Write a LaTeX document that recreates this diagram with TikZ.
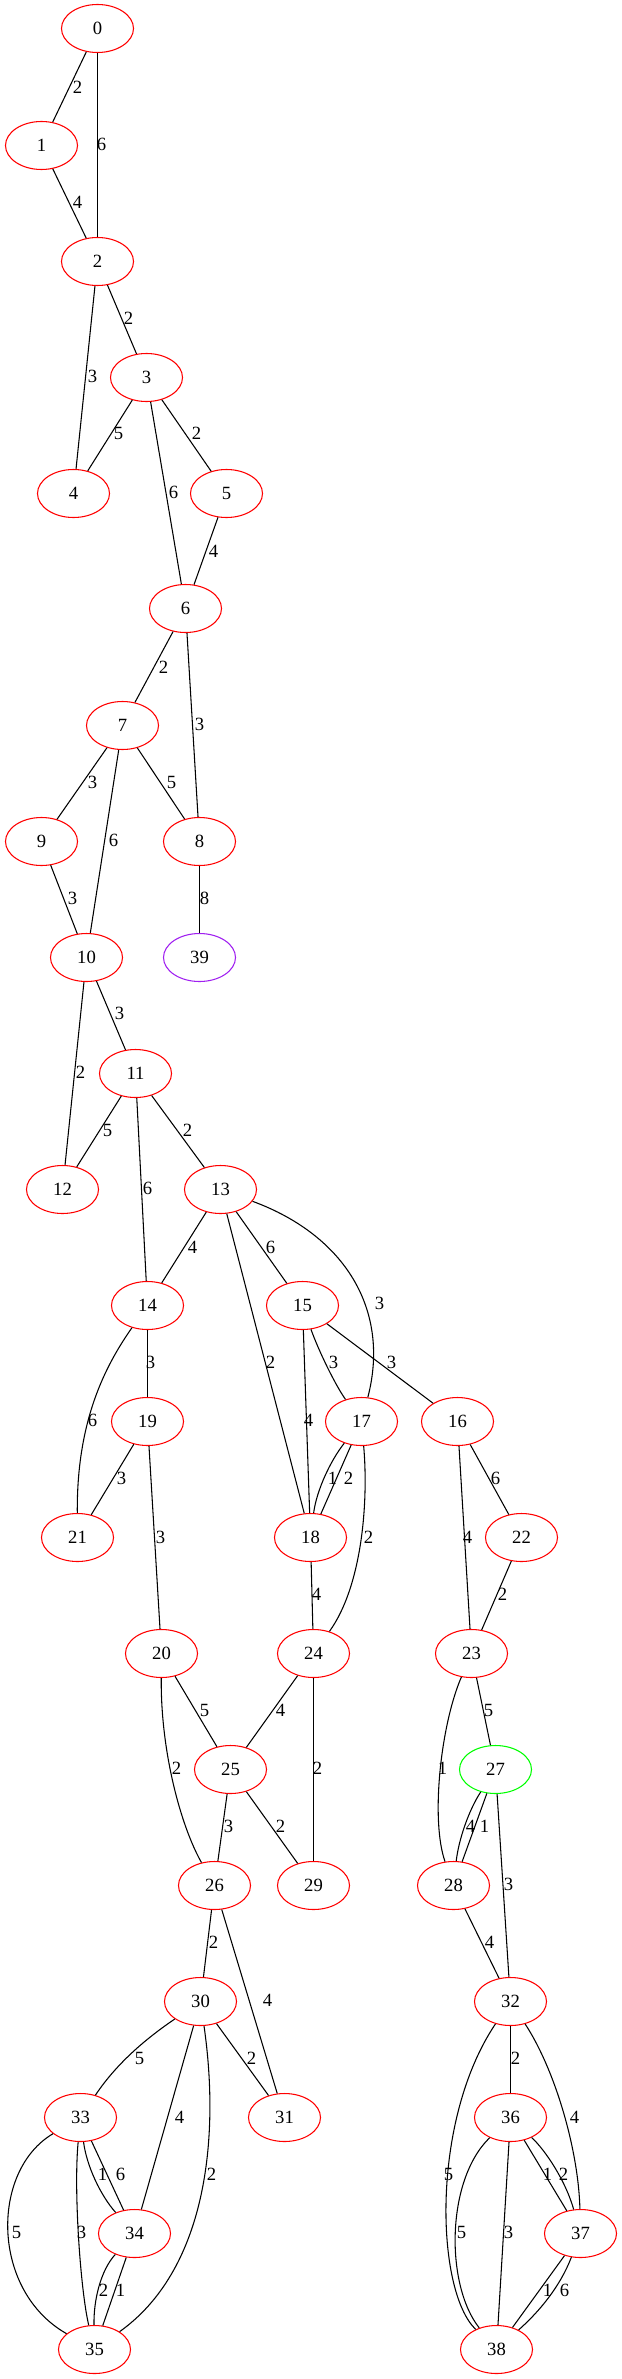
\documentclass[tikz,border=0pt]{standalone}
\usepackage{fontspec}
\setmainfont{Liberation Serif}
\usetikzlibrary{shapes.geometric}
\definecolor{gvpurple}{RGB}{160,32,240}
\definecolor{gvgreen}{RGB}{0,255,0}

\begin{document}
\begin{tikzpicture}[x=0.75pt, y=-0.75pt,
	vertex/.style={draw=red, ellipse, minimum width=54pt, minimum height=36pt, inner sep=0pt, line width=0.8pt, font=\fontsize{14pt}{16pt}\selectfont},
	wt/.style={inner sep=0pt, font=\fontsize{14pt}{16pt}\selectfont},
	link/.style={line width=0.8pt}]
	\useasboundingbox (0,0) rectangle (621,2379);
	\begin{scope}[shift={(0.5,0.5)}]

	\node[vertex] (n0) at (97,28) {0};
	\node[vertex] (n1) at (41,145) {1};
	\node[vertex] (n2) at (97,261) {2};
	\node[vertex] (n3) at (146,377) {3};
	\node[vertex] (n4) at (73,493) {4};
	\node[vertex] (n5) at (226,493) {5};
	\node[vertex] (n6) at (185,608) {6};
	\node[vertex] (n7) at (122,725) {7};
	\node[vertex] (n8) at (199,841) {8};
	\node[vertex] (n9) at (41,841) {9};
	\node[vertex] (n10) at (86,957) {10};
	\node[vertex, draw=gvpurple] (n39) at (199,957) {39};
	\node[vertex] (n11) at (135,1073) {11};
	\node[vertex] (n12) at (62,1189) {12};
	\node[vertex] (n13) at (220,1189) {13};
	\node[vertex] (n14) at (147,1305) {14};
	\node[vertex] (n15) at (302,1305) {15};
	\node[vertex] (n16) at (457,1421) {16};
	\node[vertex] (n17) at (361,1421) {17};
	\node[vertex] (n19) at (147,1421) {19};
	\node[vertex] (n18) at (310,1537) {18};
	\node[vertex] (n21) at (77,1537) {21};
	\node[vertex] (n22) at (521,1537) {22};
	\node[vertex] (n20) at (161,1653) {20};
	\node[vertex] (n23) at (471,1653) {23};
	\node[vertex] (n24) at (313,1653) {24};
	\node[vertex] (n25) at (230,1769) {25};
	\node[vertex, draw=gvgreen] (n27) at (495,1769) {27};
	\node[vertex] (n26) at (214,1885) {26};
	\node[vertex] (n28) at (453,1885) {28};
	\node[vertex] (n29) at (313,1885) {29};
	\node[vertex] (n30) at (200,2001) {30};
	\node[vertex] (n32) at (510,2001) {32};
	\node[vertex] (n31) at (284,2117) {31};
	\node[vertex] (n33) at (80,2117) {33};
	\node[vertex] (n36) at (510,2117) {36};
	\node[vertex] (n34) at (134,2233) {34};
	\node[vertex] (n37) at (580,2233) {37};
	\node[vertex] (n35) at (94,2349) {35};
	\node[vertex] (n38) at (496,2349) {38};

	\draw[link] (n0) -- (n1) node[wt] at (77,87) {2};
	\draw[link] (n0) -- (n2) node[wt] at (101,144) {6};
	\draw[link] (n1) -- (n2) node[wt] at (77,202) {4};
	\draw[link] (n2) -- (n3) node[wt] at (128,318) {2};
	\draw[link] (n2) -- (n4) node[wt] at (92,376) {3};
	\draw[link] (n3) -- (n4) node[wt] at (118,433) {5};
	\draw[link] (n3) -- (n5) node[wt] at (196,433) {2};
	\draw[link] (n3) -- (n6) node[wt] at (173,492) {6};
	\draw[link] (n5) -- (n6) node[wt] at (213,551) {4};
	\draw[link] (n6) -- (n7) node[wt] at (163,667) {2};
	\draw[link] (n6) -- (n8) node[wt] at (199,724) {3};
	\draw[link] (n7) -- (n9) node[wt] at (92,782) {3};
	\draw[link] (n7) -- (n8) node[wt] at (171,782) {5};
	\draw[link] (n7) -- (n10) node[wt] at (113,840) {6};
	\draw[link] (n9) -- (n10) node[wt] at (72,898) {3};
	\draw[link] (n8) -- (n39) node[wt] at (204,898) {8};
	\draw[link] (n10) -- (n11) node[wt] at (119,1013) {3};
	\draw[link] (n10) -- (n12) node[wt] at (80,1072) {2};
	\draw[link] (n11) -- (n12) node[wt] at (107,1130) {5};
	\draw[link] (n11) -- (n13) node[wt] at (187,1130) {2};
	\draw[link] (n11) -- (n14) node[wt] at (147,1188) {6};
	\draw[link] (n13) -- (n14) node[wt] at (192,1247) {4};
	\draw[link] (n13) -- (n15) node[wt] at (270,1247) {6};
	\draw[link] (n13) .. controls (345,1235) and (390,1310) .. (n17) node[wt] at (379,1303) {3};
	\draw[link] (n14) -- (n19) node[wt] at (150,1362) {3};
	\draw[link] (n13) -- (n18) node[wt] at (270,1362) {2};
	\draw[link] (n15) .. controls (318,1350) and (335,1385) .. (n17) node[wt] at (333,1362) {3};
	\draw[link] (n15) -- (n16) node[wt] at (391,1362) {3};
	\draw[link] (n14) .. controls (105,1365) and (76,1420) .. (n21) node[wt] at (92,1420) {6};
	\draw[link] (n15) -- (n18) node[wt] at (308,1420) {4};
	\draw[link] (n19) -- (n21) node[wt] at (121,1478) {3};
	\draw[link] (n17) .. controls (330,1460) and (316,1490) .. (n18) node[wt] at (332,1478) {1};
	\draw[link] (n17) -- (n18) node[wt] at (348,1478) {2};
	\draw[link] (n16) -- (n22) node[wt] at (495,1478) {6};
	\draw[link] (n19) -- (n20) node[wt] at (160,1537) {3};
	\draw[link] (n17) .. controls (368,1500) and (362,1585) .. (n24) node[wt] at (368,1537) {2};
	\draw[link] (n16) -- (n23) node[wt] at (467,1537) {4};
	\draw[link] (n18) -- (n24) node[wt] at (316,1594) {4};
	\draw[link] (n22) -- (n23) node[wt] at (502,1594) {2};
	\draw[link] (n20) -- (n25) node[wt] at (204,1710) {5};
	\draw[link] (n24) -- (n25) node[wt] at (280,1710) {4};
	\draw[link] (n23) -- (n27) node[wt] at (488,1710) {5};
	\draw[link] (n20) .. controls (160,1750) and (180,1825) .. (n26) node[wt] at (176,1768) {2};
	\draw[link] (n24) -- (n29) node[wt] at (317,1768) {2};
	\draw[link] (n23) .. controls (440,1725) and (430,1820) .. (n28) node[wt] at (442,1768) {1};
	\draw[link] (n25) -- (n26) node[wt] at (228,1826) {3};
	\draw[link] (n25) -- (n29) node[wt] at (280,1826) {2};
	\draw[link] (n27) .. controls (468,1810) and (458,1840) .. (n28) node[wt] at (470,1826) {4};
	\draw[link] (n27) -- (n28) node[wt] at (484,1826) {1};
	\draw[link] (n27) -- (n32) node[wt] at (508,1884) {3};
	\draw[link] (n26) -- (n30) node[wt] at (213,1942) {2};
	\draw[link] (n28) -- (n32) node[wt] at (489,1942) {4};
	\draw[link] (n26) -- (n31) node[wt] at (267,2000) {4};
	\draw[link] (n30) .. controls (150,2035) and (118,2060) .. (n33) node[wt] at (139,2058) {5};
	\draw[link] (n30) -- (n31) node[wt] at (251,2058) {2};
	\draw[link] (n32) -- (n36) node[wt] at (515,2058) {2};
	\draw[link] (n30) -- (n34) node[wt] at (179,2117) {4};
	\draw[link] (n32) .. controls (555,2070) and (578,2150) .. (n37) node[wt] at (574,2117) {4};
	\draw[link] (n33) .. controls (86,2165) and (100,2195) .. (n34) node[wt] at (102,2174) {1};
	\draw[link] (n33) -- (n34) node[wt] at (120,2174) {6};
	\draw[link] (n30) .. controls (220,2140) and (205,2270) .. (n35) node[wt] at (211,2174) {2};
	\draw[link] (n32) .. controls (430,2120) and (435,2290) .. (n38) node[wt] at (448,2174) {5};
	\draw[link] (n36) -- (n37) node[wt] at (547,2174) {1};
	\draw[link] (n36) .. controls (545,2150) and (565,2180) .. (n37) node[wt] at (563,2174) {2};
	\draw[link] (n33) .. controls (-10,2170) and (-10,2290) .. (n35) node[wt] at (16,2232) {5};
	\draw[link] (n33) .. controls (73,2190) and (80,2290) .. (n35) node[wt] at (81,2232) {3};
	\draw[link] (n36) .. controls (445,2180) and (445,2285) .. (n38) node[wt] at (461,2232) {5};
	\draw[link] (n36) -- (n38) node[wt] at (508,2232) {3};
	\draw[link] (n34) .. controls (100,2270) and (93,2300) .. (n35) node[wt] at (103,2290) {2};
	\draw[link] (n34) -- (n35) node[wt] at (120,2290) {1};
	\draw[link] (n37) -- (n38) node[wt] at (547,2290) {1};
	\draw[link] (n37) .. controls (560,2285) and (540,2310) .. (n38) node[wt] at (564,2290) {6};
	\end{scope}
\end{tikzpicture}
\end{document}
